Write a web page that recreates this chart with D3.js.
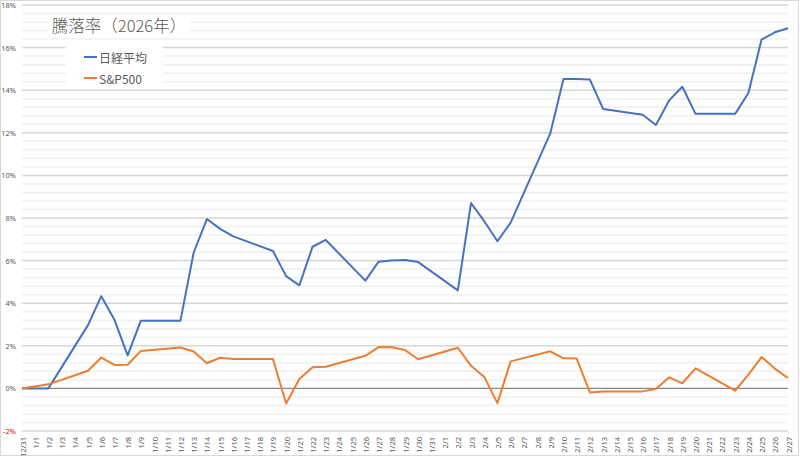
<!DOCTYPE html>
<html><head><meta charset="utf-8">
<script src="https://cdn.jsdelivr.net/npm/d3@7"></script>
<style>body{margin:0;background:#fff}svg{display:block}</style>
</head><body><svg id="c" width="800" height="456"></svg>
<script>
const categories = ["12/31","1/1","1/2","1/3","1/4","1/5","1/6","1/7","1/8","1/9","1/10","1/11","1/12","1/13","1/14","1/15","1/16","1/17","1/18","1/19","1/20","1/21","1/22","1/23","1/24","1/25","1/26","1/27","1/28","1/29","1/30","1/31","2/1","2/2","2/3","2/4","2/5","2/6","2/7","2/8","2/9","2/10","2/11","2/12","2/13","2/14","2/15","2/16","2/17","2/18","2/19","2/20","2/21","2/22","2/23","2/24","2/25","2/26","2/27"];
const nikkei = [0,0,0,null,null,2.97,4.33,3.22,1.55,3.18,null,null,3.18,6.38,7.95,7.49,7.14,null,null,6.45,5.27,4.84,6.65,6.97,null,null,5.06,5.95,6.00,6.03,5.93,null,null,4.60,8.70,7.85,6.91,7.78,null,null,11.97,14.53,14.53,14.50,13.12,null,null,12.85,12.37,13.52,14.16,12.89,null,null,12.89,13.87,16.38,16.72,16.91];
const sp500 = [0,null,0.19,null,null,0.83,1.45,1.10,1.11,1.76,null,null,1.92,1.73,1.18,1.44,1.38,null,null,1.38,-0.71,0.44,0.99,1.02,null,null,1.53,1.94,1.93,1.80,1.37,null,null,1.91,1.06,0.54,-0.69,1.27,null,null,1.74,1.41,1.40,-0.19,-0.14,null,null,-0.14,-0.03,0.52,0.24,0.94,null,null,-0.11,0.65,1.47,0.93,0.49];
const yTicks = [-2,0,2,4,6,8,10,12,14,16,18];
const seriesNames = ["日経平均","S&P500"];
const title = "騰落率（2026年）";

const svg = d3.select("#c");
const L = 22, R = 788, T = 5, B = 431;
const x = d3.scalePoint().domain(categories).range([L, R]);
const y = d3.scaleLinear().domain([-2, 18]).range([B, T]);
const font = "'Noto Sans CJK JP','Noto Sans',sans-serif";

// border
svg.append("rect").attr("x",0.5).attr("y",0.5).attr("width",798).attr("height",455)
  .attr("fill","#fff").attr("stroke","#d9d9d9");

// minor gridlines
const minor = d3.range(-2, 18.001, 0.4).filter(v => Math.abs(v/2 - Math.round(v/2)) > 0.01);
svg.append("g").selectAll("line").data(minor).join("line")
  .attr("x1",L).attr("x2",R).attr("y1",d=>y(d)).attr("y2",d=>y(d))
  .attr("stroke","#f0f0f0").attr("stroke-width",1.5);
// major gridlines
svg.append("g").selectAll("line").data(yTicks.filter(v=>v!==0)).join("line")
  .attr("x1",L).attr("x2",R).attr("y1",d=>y(d)).attr("y2",d=>y(d))
  .attr("stroke","#d6d6d6").attr("stroke-width",1.5);

// y axis labels
const yAxis = d3.axisLeft(y).tickValues(yTicks).tickSize(0).tickPadding(0).tickFormat(d => d + "%");
const yg = svg.append("g").attr("transform",`translate(${L-6},0)`).call(yAxis);
yg.select(".domain").remove();
yg.selectAll("text").attr("font-family","'Noto Sans',sans-serif").attr("font-size",7.5)
  .attr("fill", d => d < 0 ? "#ff0000" : "#595959");

// x axis labels
const xAxis = d3.axisBottom(x).tickSize(0).tickPadding(0);
const xg = svg.append("g").attr("transform",`translate(0,${B})`).call(xAxis);
xg.select(".domain").remove();
xg.selectAll("text").attr("font-family","'Noto Sans',sans-serif").attr("font-size",7.5)
  .attr("fill","#595959").attr("text-anchor","end").attr("dy",null)
  .attr("dominant-baseline","central")
  .attr("transform","translate(0,6) rotate(-90)");

// zero line
svg.append("line").attr("x1",L).attr("x2",R).attr("y1",y(0)).attr("y2",y(0))
  .attr("stroke","#868686").attr("stroke-width",1.3);

// lines
const line = d3.line().x(d=>x(d.c)).y(d=>y(d.v));
const mk = arr => categories.map((c,i)=>({c, v: arr[i]})).filter(d => d.v !== null);
svg.append("path").datum(mk(nikkei)).attr("d",line).attr("fill","none")
  .attr("stroke","#4472c4").attr("stroke-width",2).attr("stroke-linejoin","round");
svg.append("path").datum(mk(sp500)).attr("d",line).attr("fill","none")
  .attr("stroke","#ed7d31").attr("stroke-width",2).attr("stroke-linejoin","round");

// title
svg.append("rect").attr("x",48).attr("y",20).attr("width",142).attr("height",17).attr("fill","#fff");
svg.append("text").attr("x",119).attr("y",32).attr("text-anchor","middle")
  .attr("font-family",font).attr("font-size",16.5).attr("font-weight",300).attr("fill","#595959").text(title);

// legend
svg.append("rect").attr("x",66).attr("y",42).attr("width",97).attr("height",46).attr("fill","#fff");
const colors = ["#4472c4","#ed7d31"];
const lg = svg.append("g").selectAll("g").data(seriesNames).join("g")
  .attr("transform",(d,i)=>`translate(84,${57 + i*21})`);
lg.append("line").attr("x1",0).attr("x2",13).attr("y1",0).attr("y2",0)
  .attr("stroke",(d,i)=>colors[i]).attr("stroke-width",2);
lg.append("text").attr("x",15).attr("y",0).attr("dominant-baseline","central")
  .attr("font-family",font).attr("font-size",12).attr("fill","#595959").text(d=>d);
</script></body></html>
